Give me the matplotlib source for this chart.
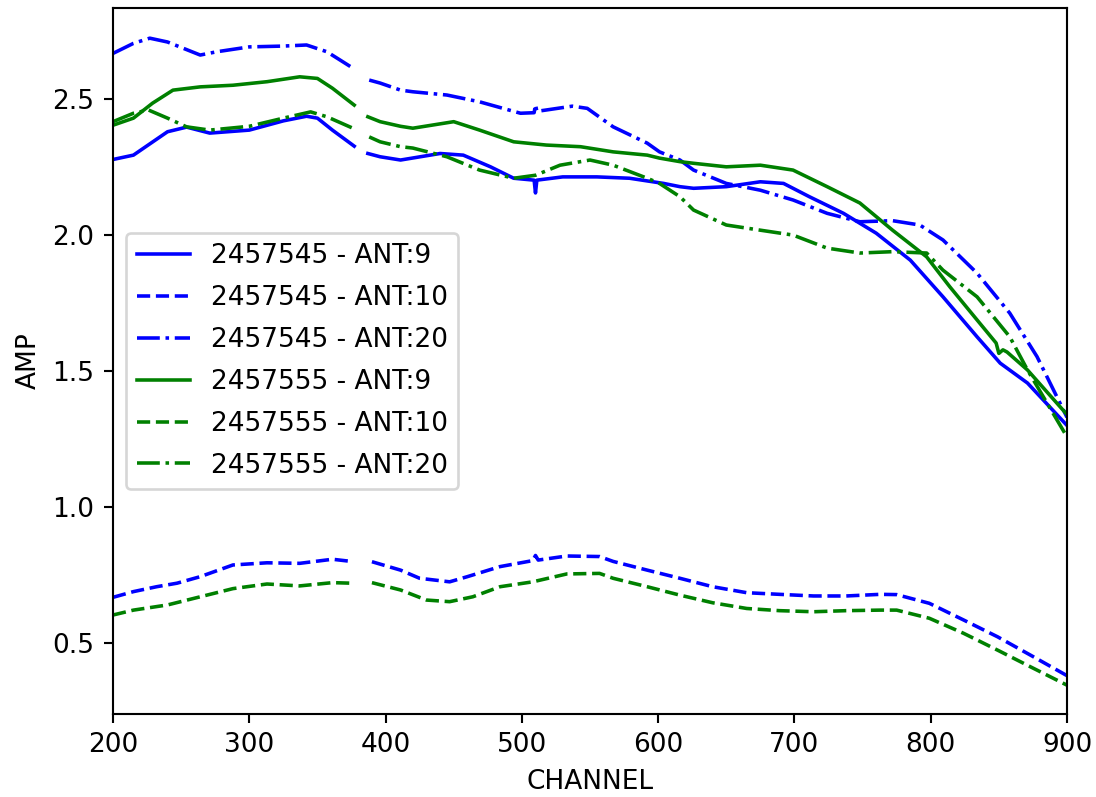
import numpy as np
import matplotlib
matplotlib.use('Agg')
import matplotlib.pyplot as plt

nan = np.nan

# 2457545 - ANT:9
ch_45_9 = [200, 215, 240, 254, 271, 300, 325, 342, 350, 361, 377, 382, 387, 396, 411,
           440, 457, 477, 494, 509, 510, 511, 530, 555, 579, 604, 616, 626, 650, 675,
           692, 711, 736, 760, 785, 809, 834, 851, 871, 900]
amp_45_9 = [2.278, 2.294, 2.380, 2.397, 2.375, 2.386, 2.420, 2.437, 2.430, 2.386, 2.327, nan,
            2.300, 2.288, 2.276, 2.300, 2.294, 2.251, 2.209, 2.202, 2.155, 2.202, 2.214,
            2.214, 2.209, 2.190, 2.178, 2.172, 2.178, 2.196, 2.190, 2.141, 2.080, 2.007,
            1.908, 1.773, 1.626, 1.529, 1.456, 1.300]

# 2457545 - ANT:10
ch_45_10 = [200, 215, 232, 247, 264, 288, 313, 337, 361, 375, 382, 390, 411, 425, 447,
            460, 484, 508, 510, 512, 533, 557, 567, 592, 616, 640, 665, 689, 714, 738,
            763, 775, 799, 824, 849, 873, 900]
amp_45_10 = [0.668, 0.689, 0.707, 0.720, 0.744, 0.787, 0.795, 0.793, 0.808, 0.800, nan,
             0.799, 0.768, 0.738, 0.725, 0.744, 0.781, 0.803, 0.822, 0.805, 0.820, 0.818,
             0.800, 0.768, 0.738, 0.707, 0.685, 0.679, 0.673, 0.673, 0.679, 0.678, 0.646,
             0.585, 0.523, 0.456, 0.380]

# 2457545 - ANT:20
ch_45_20 = [200, 215, 227, 240, 264, 276, 300, 325, 342, 357, 376, 382, 388, 396, 411,
            420, 445, 469, 499, 509, 510, 511, 518, 537, 548, 567, 592, 601, 616, 626,
            650, 675, 699, 724, 748, 772, 792, 809, 834, 858, 878, 900]
amp_45_20 = [2.668, 2.705, 2.724, 2.710, 2.662, 2.674, 2.692, 2.695, 2.699, 2.674, 2.614, nan,
             2.570, 2.559, 2.533, 2.527, 2.515, 2.490, 2.448, 2.450, 2.480, 2.455, 2.460,
             2.474, 2.466, 2.398, 2.338, 2.306, 2.276, 2.239, 2.190, 2.165, 2.129, 2.080,
             2.049, 2.053, 2.037, 1.982, 1.860, 1.713, 1.553, 1.330]

# 2457555 - ANT:9
ch_55_9 = [200, 215, 229, 244, 264, 288, 313, 337, 350, 361, 377, 382, 387, 396, 411,
           420, 450, 469, 494, 518, 543, 567, 592, 601, 616, 626, 650, 675, 699, 724,
           748, 772, 797, 814, 834, 848, 850, 853, 856, 871, 900]
amp_55_9 = [2.404, 2.430, 2.485, 2.533, 2.545, 2.551, 2.564, 2.582, 2.576, 2.540, 2.478, nan,
            2.435, 2.417, 2.400, 2.393, 2.417, 2.386, 2.343, 2.331, 2.325, 2.306, 2.294,
            2.283, 2.270, 2.264, 2.251, 2.257, 2.239, 2.178, 2.118, 2.018, 1.920, 1.810,
            1.688, 1.603, 1.565, 1.578, 1.570, 1.504, 1.340]

# 2457555 - ANT:10
ch_55_10 = [200, 215, 240, 264, 288, 313, 337, 361, 375, 382, 390, 411, 430, 447, 464,
            484, 508, 533, 557, 567, 592, 616, 640, 665, 689, 714, 738, 763, 775, 799,
            824, 849, 873, 900]
amp_55_10 = [0.603, 0.621, 0.640, 0.670, 0.700, 0.717, 0.710, 0.722, 0.720, nan, 0.722,
             0.695, 0.658, 0.652, 0.670, 0.707, 0.725, 0.754, 0.756, 0.738, 0.707, 0.676,
             0.648, 0.627, 0.619, 0.615, 0.619, 0.621, 0.621, 0.591, 0.536, 0.474, 0.413,
             0.345]

# 2457555 - ANT:20
ch_55_20 = [200, 215, 226, 240, 254, 271, 300, 325, 345, 357, 376, 382, 388, 396, 411,
            420, 445, 469, 494, 510, 528, 550, 567, 592, 601, 616, 626, 650, 675, 699,
            724, 748, 772, 797, 809, 834, 858, 871, 900]
amp_55_20 = [2.417, 2.448, 2.460, 2.430, 2.398, 2.386, 2.400, 2.430, 2.453, 2.435, 2.393, nan,
             2.361, 2.343, 2.325, 2.320, 2.288, 2.239, 2.209, 2.220, 2.257, 2.276, 2.257,
             2.209, 2.190, 2.141, 2.092, 2.037, 2.018, 2.000, 1.952, 1.934, 1.939, 1.934,
             1.871, 1.773, 1.626, 1.504, 1.258]

series = [
    (ch_45_9, amp_45_9, 'b', '-', '2457545 - ANT:9'),
    (ch_45_10, amp_45_10, 'b', '--', '2457545 - ANT:10'),
    (ch_45_20, amp_45_20, 'b', '-.', '2457545 - ANT:20'),
    (ch_55_9, amp_55_9, 'g', '-', '2457555 - ANT:9'),
    (ch_55_10, amp_55_10, 'g', '--', '2457555 - ANT:10'),
    (ch_55_20, amp_55_20, 'g', '-.', '2457555 - ANT:20'),
]

dpi = 190
fig = plt.figure(figsize=(1096 / dpi, 797 / dpi), dpi=dpi)
ax = fig.add_axes([113 / 1096, 83 / 797, 954 / 1096, 706 / 797])

for ch, amp, color, ls, label in series:
    ax.plot(ch, amp, color=color, linestyle=ls, linewidth=1.35, label=label)

ax.set_xlim(200, 900)
ax.set_ylim(0.239, 2.835)
ax.set_xticks([200, 300, 400, 500, 600, 700, 800, 900])
ax.set_yticks([0.5, 1.0, 1.5, 2.0, 2.5])
ax.set_xlabel('CHANNEL')
ax.set_ylabel('AMP')
ax.legend(loc='center left', labelspacing=0.6)

fig.savefig('out.png', dpi=dpi)
